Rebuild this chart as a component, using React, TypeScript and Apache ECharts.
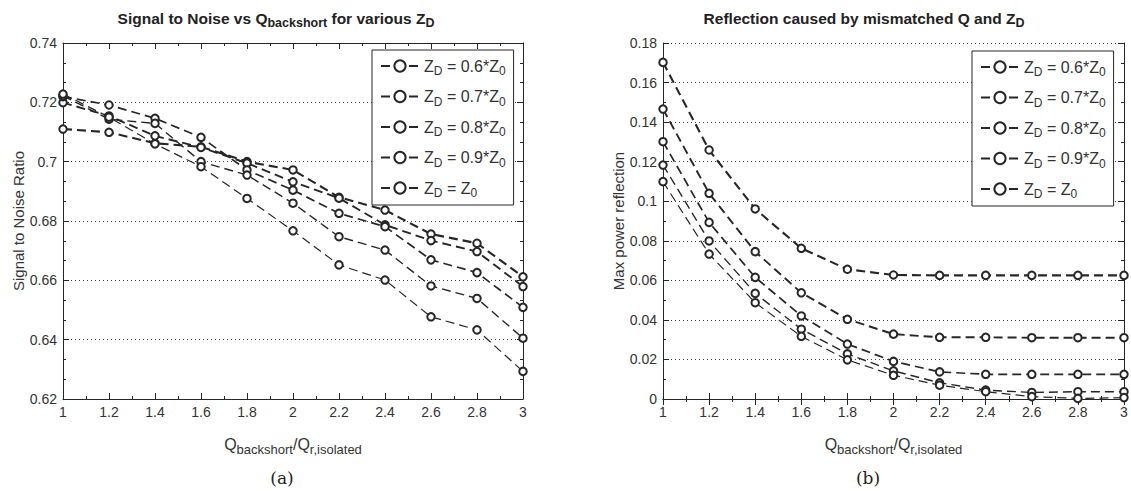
import { useEffect, useRef } from "react";
import * as echarts from "echarts";

// Q_backshort / Q_r,isolated sample points (shared by both panels)
const qRatio = [1, 1.2, 1.4, 1.6, 1.8, 2, 2.2, 2.4, 2.6, 2.8, 3];

// Z_D / Z_0 for each curve
const zdRatio = ["0.6", "0.7", "0.8", "0.9", "1"];

// Panel (a): signal to noise ratio
const snr06 = [0.711, 0.7099, 0.7062, 0.705, 0.7, 0.6972, 0.688, 0.6837, 0.6756, 0.6725, 0.6612];
const snr07 = [0.7199, 0.7154, 0.7087, 0.7048, 0.6995, 0.6932, 0.6877, 0.6787, 0.6734, 0.6697, 0.6579];
const snr08 = [0.7219, 0.7191, 0.7146, 0.7082, 0.6972, 0.6904, 0.6826, 0.6781, 0.6669, 0.6626, 0.6509];
const snr09 = [0.7222, 0.7143, 0.7129, 0.7, 0.6955, 0.686, 0.6747, 0.6702, 0.6581, 0.6539, 0.6405];
const snr10 = [0.7228, 0.715, 0.706, 0.6983, 0.6876, 0.6767, 0.6652, 0.6601, 0.6477, 0.6433, 0.6293];

// Panel (b): max power reflection
const refl06 = [0.1702, 0.1259, 0.0961, 0.0762, 0.0656, 0.0627, 0.0625, 0.0625, 0.0625, 0.0625, 0.0625];
const refl07 = [0.1466, 0.104, 0.0745, 0.0537, 0.0403, 0.0328, 0.0312, 0.0312, 0.031, 0.031, 0.031];
const refl08 = [0.1301, 0.0893, 0.0615, 0.042, 0.0278, 0.019, 0.0137, 0.0125, 0.0125, 0.0125, 0.0125];
const refl09 = [0.1183, 0.0799, 0.0534, 0.0353, 0.0228, 0.0142, 0.0082, 0.0045, 0.0033, 0.0037, 0.0037];
const refl10 = [0.1099, 0.0733, 0.0487, 0.0317, 0.0198, 0.012, 0.007, 0.0037, 0.0012, 0.0003, 0.0007];

const snrSets = [snr06, snr07, snr08, snr09, snr10];
const reflSets = [refl06, refl07, refl08, refl09, refl10];

const FONT = "Liberation Sans, Arial, sans-serif";
const INK = "#262626";
const lineWidths = [2.1, 1.9, 1.7, 1.4, 1.2];

const fmt = (v: number) => String(+v.toFixed(2));

function legendName(name: string) {
  return name === "1"
    ? "{n|Z}{s|D}{n| = Z}{s|0}"
    : `{n|Z}{s|D}{n| = ${name}*Z}{s|0}`;
}

function buildOption() {
  const grids = [
    { left: 63, top: 43, width: 460, height: 356 },
    { left: 663, top: 43, width: 461, height: 356 },
  ];
  const yRanges = [
    { min: 0.62, max: 0.74, name: "Signal to Noise Ratio" },
    { min: 0, max: 0.18, name: "Max power reflection" },
  ];

  const xAxes: any[] = [];
  const yAxes: any[] = [];
  grids.forEach((_, i) => {
    const tickCommon = {
      axisLine: { show: true, lineStyle: { color: INK, width: 1 } },
      axisTick: { show: true, inside: true, length: 6, lineStyle: { color: INK } },
      minorTick: { show: true, splitNumber: 2, length: 3, lineStyle: { color: INK } },
    };
    xAxes.push({
      type: "value",
      gridIndex: i,
      position: "bottom",
      min: 1,
      max: 3,
      interval: 0.2,
      ...tickCommon,
      splitLine: { show: false },
      axisLabel: { formatter: fmt, fontSize: 14, color: "#333", fontFamily: FONT, margin: 6 },
      name: "Q{s|backshort}/Q{s|r,isolated}",
      nameLocation: "middle",
      nameGap: 33,
      nameTextStyle: {
        fontSize: 16,
        color: "#333",
        fontFamily: FONT,
        rich: { s: { fontSize: 13, color: "#333", fontFamily: FONT, padding: [11, 0, 0, 0] } },
      },
    });
    xAxes.push({
      type: "value",
      gridIndex: i,
      position: "top",
      min: 1,
      max: 3,
      interval: 0.2,
      ...tickCommon,
      splitLine: { show: false },
      axisLabel: { show: false },
    });
    const yr = yRanges[i];
    const yTick = {
      ...tickCommon,
      minorTick: { show: true, splitNumber: i === 0 ? 3 : 2, length: 3, lineStyle: { color: INK } },
    };
    yAxes.push({
      type: "value",
      gridIndex: i,
      position: "left",
      min: yr.min,
      max: yr.max,
      interval: 0.02,
      ...yTick,
      splitLine: { show: true, lineStyle: { type: [1, 3], color: "#444", width: 1 } },
      axisLabel: { formatter: fmt, fontSize: 14, color: "#333", fontFamily: FONT, margin: 6 },
      name: yr.name,
      nameLocation: "middle",
      nameGap: 37,
      nameTextStyle: { fontSize: 15, color: "#333", fontFamily: FONT },
    });
    yAxes.push({
      type: "value",
      gridIndex: i,
      position: "right",
      min: yr.min,
      max: yr.max,
      interval: 0.02,
      ...yTick,
      splitLine: { show: false },
      axisLabel: { show: false },
    });
  });

  const makeSeries = (sets: number[][], axisBase: number) =>
    sets.map((vals, k) => ({
      type: "line",
      name: zdRatio[k],
      xAxisIndex: axisBase,
      yAxisIndex: axisBase,
      data: vals.map((v, j) => [qRatio[j], v]),
      symbol: "emptyCircle",
      symbolSize: 7.5,
      showSymbol: true,
      lineStyle: { color: INK, width: lineWidths[k], type: [9, 5] },
      itemStyle: { color: INK, borderColor: INK, borderWidth: 1.1 },
      z: 3,
    }));

  const legendCommon = {
    orient: "vertical",
    data: zdRatio,
    backgroundColor: "#fff",
    borderColor: INK,
    borderWidth: 1,
    padding: [8, 8, 6, 8],
    itemGap: 11.5,
    itemWidth: 38,
    itemHeight: 14,
    selectedMode: false,
    formatter: legendName,
    textStyle: {
      color: "#333",
      fontFamily: FONT,
      rich: {
        n: { fontSize: 16, color: "#333", fontFamily: FONT },
        s: { fontSize: 12, color: "#333", fontFamily: FONT, padding: [10, 0, 0, 0] },
      },
    },
    z: 10,
  };

  const titleText = (x: number, text: string) => ({
    type: "text",
    x,
    y: 18,
    style: {
      text,
      fill: "#222",
      fontSize: 15.5,
      fontWeight: "bold",
      fontFamily: FONT,
      align: "center",
      verticalAlign: "middle",
      rich: {
        s: { fontSize: 12.5, fontWeight: "bold", fill: "#222", fontFamily: FONT, padding: [10, 0, 0, 0] },
      },
    },
  });

  const caption = (x: number, text: string) => ({
    type: "text",
    x,
    y: 478,
    style: {
      text,
      fill: "#222",
      fontSize: 17,
      fontFamily: "DejaVu Serif, Liberation Serif, serif",
      align: "center",
      verticalAlign: "middle",
    },
  });

  return {
    animation: false,
    backgroundColor: "#fff",
    grid: grids,
    xAxis: xAxes,
    yAxis: yAxes,
    legend: [
      { ...legendCommon, left: 372, top: 50 },
      { ...legendCommon, left: 972, top: 51 },
    ],
    series: [...makeSeries(snrSets, 0), ...makeSeries(reflSets, 2)],
    graphic: [
      titleText(276, "Signal to Noise vs Q{s|backshort} for various Z{s|D}"),
      titleText(864, "Reflection caused by mismatched Q and Z{s|D}"),
      caption(282, "(a)"),
      caption(868, "(b)"),
    ],
  };
}

export default function App() {
  const ref = useRef<HTMLDivElement>(null);
  useEffect(() => {
    if (!ref.current) return;
    const chart = echarts.init(ref.current, null, { renderer: "svg" });
    chart.setOption(buildOption() as any);
    return () => chart.dispose();
  }, []);
  return (
    <div
      ref={ref}
      style={{ position: "fixed", left: 0, top: 0, width: 1131, height: 491, background: "#fff" }}
    />
  );
}
